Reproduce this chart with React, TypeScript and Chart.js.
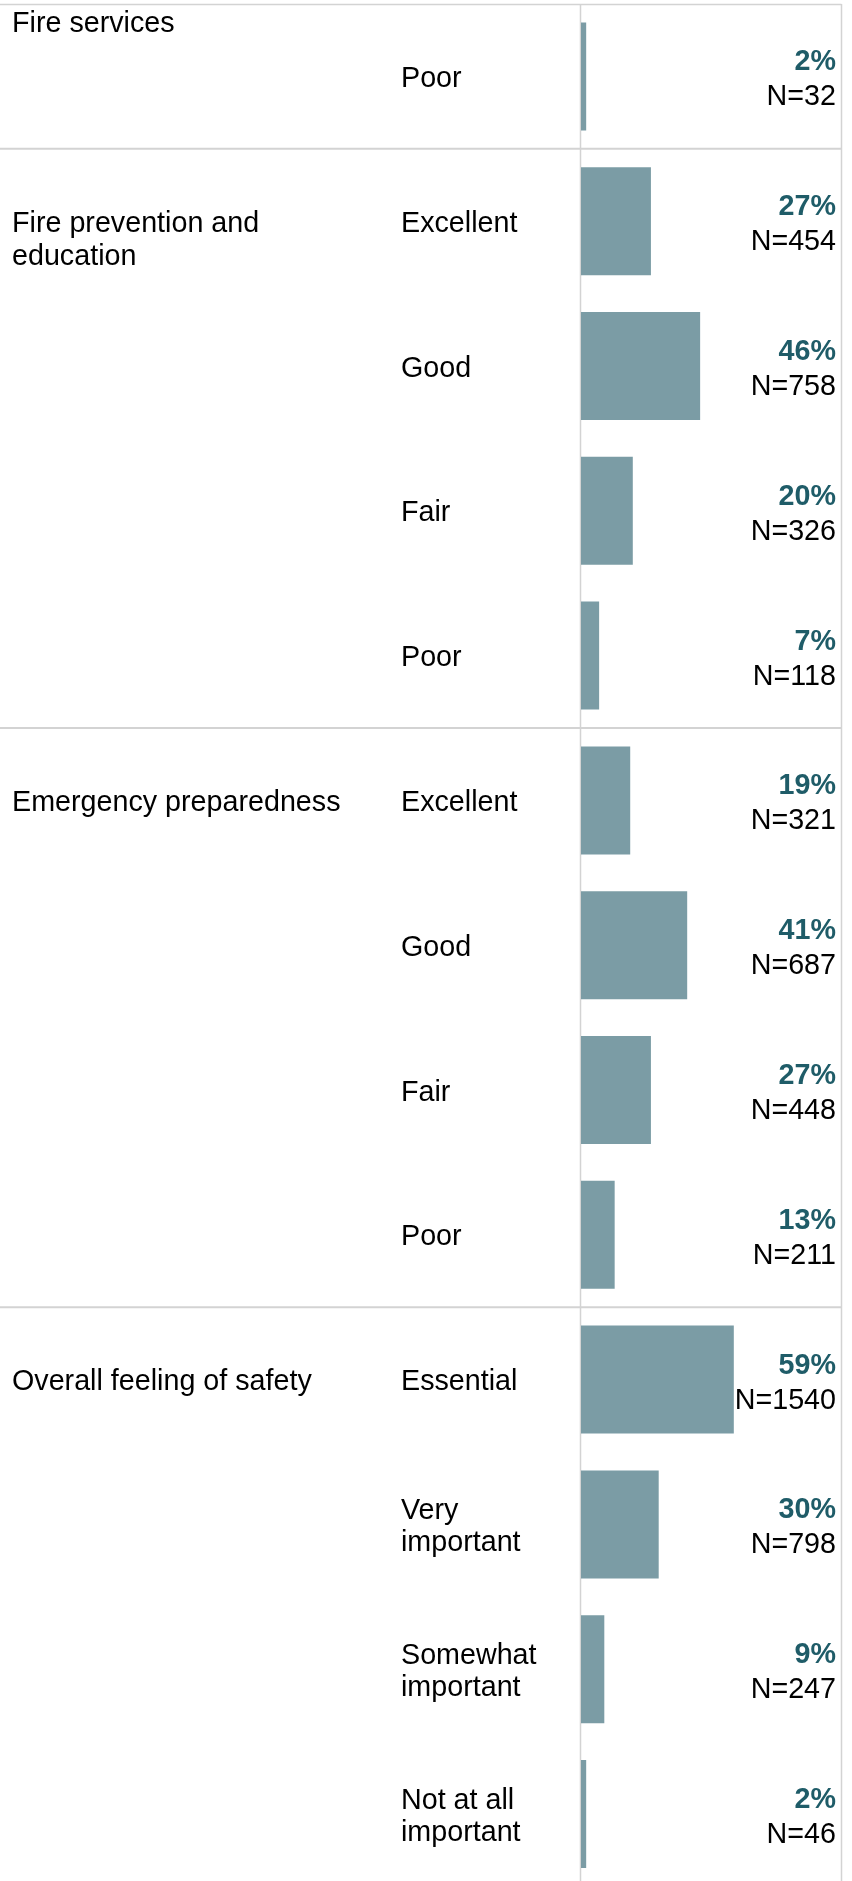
import React, { useEffect, useRef } from "react";
import { Chart, registerables } from "chart.js";

Chart.register(...registerables);

// ---- Data ----
const groupLabels: string[][] = [
  ["Fire services"],
  ["Fire prevention and", "education"],
  ["Emergency preparedness"],
  ["Overall feeling of safety"],
];
const groupStarts: number[] = [0, 1, 5, 9];

const categoryLabels: string[][] = [
  ["Poor"],
  ["Excellent"],
  ["Good"],
  ["Fair"],
  ["Poor"],
  ["Excellent"],
  ["Good"],
  ["Fair"],
  ["Poor"],
  ["Essential"],
  ["Very", "important"],
  ["Somewhat", "important"],
  ["Not at all", "important"],
];

const percentValues: number[] = [2, 27, 46, 20, 7, 19, 41, 27, 13, 59, 30, 9, 2];
const countValues: number[] = [32, 454, 758, 326, 118, 321, 687, 448, 211, 1540, 798, 247, 46];

const BAR_COLOR = "#7b9ca5";
const PCT_COLOR = "#1f5c68";
const LINE_COLOR = "#d3d3d3";
const FONT_FAMILY = '"Liberation Sans", Arial, Helvetica, sans-serif';
const FONT_SIZE = 28.7;

const labelPlugin = {
  id: "tableLabels",
  beforeDatasetsDraw(chart: any) {
    const { ctx, chartArea, scales } = chart;
    const y = scales.y;
    const x = scales.x;
    const n = categoryLabels.length;
    const pitch = (chartArea.bottom - chartArea.top) / n;
    ctx.save();
    ctx.strokeStyle = LINE_COLOR;
    // top border
    ctx.lineWidth = 1.5;
    ctx.beginPath();
    ctx.moveTo(0, chartArea.top + 0.5);
    ctx.lineTo(chartArea.right + 1.5, chartArea.top + 0.5);
    ctx.stroke();
    // group separators
    ctx.lineWidth = 2;
    groupStarts.forEach((s) => {
      if (s === 0) return;
      const yy = y.getPixelForValue(s) - pitch / 2;
      ctx.beginPath();
      ctx.moveTo(0, yy);
      ctx.lineTo(chartArea.right + 1.5, yy);
      ctx.stroke();
    });
    // zero line
    ctx.lineWidth = 1.5;
    const x0 = x.getPixelForValue(0) - 0.5;
    ctx.beginPath();
    ctx.moveTo(x0, chartArea.top);
    ctx.lineTo(x0, chart.height);
    ctx.stroke();
    // right border
    ctx.beginPath();
    ctx.moveTo(chartArea.right + 1.5, chartArea.top);
    ctx.lineTo(chartArea.right + 1.5, chart.height);
    ctx.stroke();
    ctx.restore();
  },
  afterDatasetsDraw(chart: any) {
    const { ctx, chartArea, scales } = chart;
    const y = scales.y;
    ctx.save();
    ctx.textBaseline = "alphabetic";
    ctx.fillStyle = "#000";
    ctx.font = `${FONT_SIZE}px ${FONT_FAMILY}`;
    ctx.textAlign = "left";
    // group labels
    groupLabels.forEach((lines, gi) => {
      const s = groupStarts[gi];
      const base = s === 0 ? chartArea.top + 27.5 : y.getPixelForValue(s) + 10.5;
      lines.forEach((ln, li) => ctx.fillText(ln, 12, base + li * 33));
    });
    // category labels
    categoryLabels.forEach((lines, i) => {
      const c = y.getPixelForValue(i) + 10.5;
      lines.forEach((ln, li) => {
        ctx.fillText(ln, 401, c + (li - (lines.length - 1) / 2) * 32);
      });
    });
    // value labels
    ctx.textAlign = "right";
    percentValues.forEach((p, i) => {
      const c = y.getPixelForValue(i);
      ctx.font = `bold ${FONT_SIZE}px ${FONT_FAMILY}`;
      ctx.fillStyle = PCT_COLOR;
      ctx.fillText(`${p}%`, 836, c - 6);
      ctx.font = `${FONT_SIZE}px ${FONT_FAMILY}`;
      ctx.fillStyle = "#000";
      ctx.fillText(`N=${countValues[i]}`, 836, c + 29);
    });
    ctx.restore();
  },
};

export default function App() {
  const canvasRef = useRef<HTMLCanvasElement | null>(null);

  useEffect(() => {
    if (!canvasRef.current) return;
    const chart = new Chart(canvasRef.current, {
      type: "bar",
      data: {
        labels: categoryLabels.map((l) => l.join(" ")),
        datasets: [
          {
            data: percentValues,
            backgroundColor: BAR_COLOR,
            borderWidth: 0,
            barPercentage: 0.746,
            categoryPercentage: 1,
          },
        ],
      },
      options: {
        indexAxis: "y",
        responsive: false,
        animation: false,
        devicePixelRatio: 1,
        layout: { padding: { left: 581, right: 12, top: 4, bottom: 13.6 } },
        scales: {
          x: { display: false, min: 0, max: 100 },
          y: { display: false },
        },
        plugins: {
          legend: { display: false },
          tooltip: { enabled: false },
        },
      },
      plugins: [labelPlugin],
    });
    return () => chart.destroy();
  }, []);

  return (
    <div
      style={{
        position: "absolute",
        left: 0,
        top: 0,
        width: 852,
        height: 1881,
        overflow: "hidden",
        background: "#fff",
      }}
    >
      <canvas ref={canvasRef} width={852} height={1900} />
    </div>
  );
}
